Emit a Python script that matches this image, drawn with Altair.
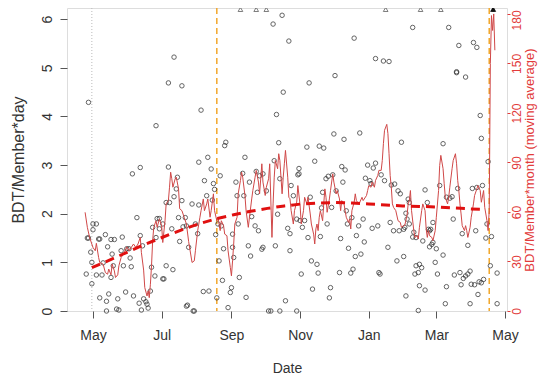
import altair as alt
import pandas as pd

START = "2015-05-01"

# daily values (day offset from START, BDT/Member*day)
pt_day = [-6,-5,-4,-4,-2,-1,-1,0,0,3,3,5,6,6,8,9,11,12,12,13,14,16,16,17,18,19,21,22,23,26,25,27,29,30,32,33,34,35,36,39,
          41,42,42,43,44,45,47,48,49,51,52,53,56,56,57,59,55,59,62,62,63,65,65,67,67,68,70,71,72,72,74,75,76,77,79,79,80,83,85,84,
          89,90,82,83,88,91,93,94,94,96,98,103,99,101,102,105,106,107,108,109,110,111,112,113,114,115,116,117,118,120,122,123,124,125,124,127,
          128,130,129,133,134,135,136,138,139,140,141,144,145,146,147,148,150,151,151,154,156,158,160,161,162,163,164,165,166,166,168,169,171,173,
          174,175,176,181,181,183,183,182,178,175,184,185,186,188,190,191,192,193,194,195,197,199,200,201,202,203,205,204,207,208,209,210,211,212,
          213,214,215,216,219,220,221,222,223,224,225,226,227,229,231,230,232,233,234,236,237,238,240,241,244,242,246,247,248,249,251,251,253,254,
          255,256,258,259,262,263,264,265,267,268,271,273,270,272,274,276,277,276,278,280,281,278,279,281,284,285,284,287,289,287,290,292,289,286,
          290,293,295,295,297,298,299,300,302,299,301,302,304,305,306,308,311,311,313,314,314,317,319,316,320,321,323,323,324,325,326,327,328,329,
          331,331,333,333,335,335,336,337,338,339,340,341,341,342,343,345,346,347,344,345,349,350,351,353,354,359,359]
pt_val = [0.76,1.50,1.50,4.29,1.21,0.56,1.00,1.79,1.67,1.79,0.74,1.48,1.48,0.27,0.74,0.99,1.57,0.20,0.00,1.32,0.35,0.69,1.47,1.17,0.93,1.47,0.04,0.25,0.02,1.52,1.24,0.93,0.39,1.28,1.28,1.09,0.91,2.82,0.31,1.92,
          0.16,1.55,2.95,0.02,1.34,0.25,0.19,0.14,0.06,0.41,0.90,1.72,3.81,1.51,1.90,1.90,0.72,1.69,1.79,0.66,0.66,0.93,2.23,2.96,4.69,2.23,1.69,0.85,2.35,5.22,2.51,2.75,1.92,1.43,2.27,4.63,1.73,0.10,1.31,0.12,
          0.00,0.00,1.92,1.75,2.20,1.79,1.59,2.18,3.06,4.13,0.40,0.41,2.68,2.37,3.16,2.92,2.28,2.62,2.50,1.57,0.27,1.79,1.03,2.78,1.75,0.63,1.28,3.40,3.47,0.07,0.38,0.48,1.31,1.10,1.58,2.65,
          2.37,0.69,1.79,2.83,2.37,3.16,0.28,1.34,2.65,1.13,1.94,1.75,2.87,2.44,1.65,2.78,1.27,1.31,2.82,2.47,0.00,0.00,5.90,3.09,1.34,4.04,1.99,3.46,2.72,0.00,6.08,4.50,0.21,1.70,
          5.55,1.24,2.58,0.00,1.89,2.93,2.82,2.80,2.37,1.59,1.86,0.76,1.72,1.86,3.37,1.51,4.69,2.34,1.03,0.45,3.08,0.96,0.78,3.39,1.53,2.12,3.35,2.44,2.72,1.79,2.77,0.27,0.48,2.13,
          2.80,3.64,4.84,2.47,0.79,1.49,2.97,2.65,3.53,2.90,2.06,1.79,1.29,0.78,0.86,1.92,5.61,1.12,1.55,1.75,3.66,1.17,1.89,1.42,3.00,2.73,2.68,2.62,1.70,2.94,3.04,5.19,1.75,0.79,
          0.76,2.80,5.14,2.68,1.31,5.13,1.82,2.59,1.65,2.61,2.47,2.41,1.03,1.65,3.47,1.68,1.72,1.12,0.31,2.30,2.23,2.01,1.89,1.79,5.83,1.62,1.52,1.51,0.01,0.93,0.96,0.89,0.79,0.76,
          0.52,1.44,0.43,2.49,2.23,1.68,1.65,1.68,1.82,1.32,1.37,1.41,1.00,1.28,0.76,2.58,3.44,1.15,0.15,0.50,2.34,2.32,2.35,5.83,1.89,0.74,4.90,4.92,2.52,5.46,0.79,0.54,1.59,0.67,
          0.72,4.81,0.76,1.35,0.82,0.15,0.55,2.52,5.52,0.54,1.65,5.42,2.54,0.34,0.60,0.58,2.58,0.65,4.02,3.55,1.50,1.79,3.07,0.93,1.53,0.78,0.15]

# days with values above the plotted range (drawn at the top edge)
over_open_day = [131, 145, 154, 260, 291, 309]
over_fill_day = [355, 356]
over_val = 6.2

# moving average, BDT/Member*month
ma_day = [-7,-5,-3,0,2,3,5,6,9,11,13,14,16,17,19,20,22,23,25,27,28,30,32,34,36,38,40,42,43,45,46,48,49,50,51,52,53,54,56,57,
          59,61,62,64,65,67,68,69,70,71,73,74,76,77,79,81,83,85,88,90,91,93,95,96,98,99,101,102,104,105,107,108,110,111,113,114,116,117,119,120,
          122,123,124,125,126,128,129,131,132,133,135,136,138,139,141,142,144,145,147,148,150,151,153,154,156,157,159,160,161,162,164,165,166,167,168,169,170,171,173,174,
          175,176,178,179,181,182,184,185,187,188,190,191,193,194,196,197,198,199,200,201,202,204,205,206,207,208,210,211,213,214,216,217,219,220,221,223,224,225,227,228,
          229,230,232,233,234,236,237,239,240,243,244,245,247,248,250,251,253,254,256,257,258,259,261,262,263,264,265,266,267,269,271,273,274,276,277,279,280,281,282,283,
          285,286,288,289,290,292,293,295,296,297,298,299,301,302,304,305,307,308,309,311,312,313,315,316,317,319,320,322,323,324,325,326,327,328,330,331,332,333,335,336,
          338,339,341,342,344,345,347,348,350,351,352,353,354,355,356,357]
ma_val = [59.8,50.7,44.6,38.5,36.5,41,32.4,29.4,28.4,23.3,22.3,25.4,21.9,28.4,24.3,20.3,21.9,27.4,32.4,34.5,35.9,38.9,36.5,38.5,40.6,38.5,40.6,44.6,35.5,24.8,14.2,9.1,12.2,8.1,16.2,27.4,42.6,50.7,54.7,50.7,
          55.8,51.7,41.5,54.7,64.9,66.9,75,84.1,80.1,75,80.1,81.1,74,62,60.8,56.8,52.7,42,29.4,30.4,36.5,48.7,56.8,60.8,67.9,60.8,64.9,67.9,56.8,60.8,71,60.8,54.7,56.8,48.7,54.7,51.7,46.6,45.6,36.5,
          26.4,21.3,30.4,40.6,52.7,56.8,71,79.1,84.1,81.1,70,60.8,50.7,56.8,67.9,73,81.1,85.2,78.1,71,89.2,78.1,70,75,80.1,89.2,44.6,64.9,81.1,91.2,86.2,95.3,91.2,81.1,71,81.1,89.2,97.3,81.1,68.9,
          68,61,52.7,60.8,66,76,64,52.7,60.8,68.9,64.9,68.9,58.8,52.7,46.6,40.6,49.7,52.7,48.7,56.8,60.8,54.7,64.9,74,68.9,59.8,67.9,73,83.1,78.1,71,73,67.9,60.8,66.9,64.9,60.8,56.8,53.7,55.8,
          49.7,60.8,65.9,71,66.9,64.9,65.9,68.9,66.9,70,73,76,75,78.1,75,79.1,82.1,85.2,85.2,91.2,101.4,109.5,113.1,107.5,95.3,82.1,75,64.9,62.8,60.8,54.7,53.7,50.7,51.7,52,58,64.9,66.9,73,60.8,
          48.7,44.6,45.6,43.6,50.7,60.8,64.9,60.8,49.7,44.6,48.7,45.6,44.6,42.6,48.7,56.8,73,88.2,94.3,86.2,77.1,68.9,64.9,68.9,75,86.2,91.2,95.3,89.2,79.1,73,64.9,58.8,51.7,48.7,51.7,48.7,44.6,50.7,56.8,
          64.9,70,74,76,73,65.9,73,62.8,54.7,48.7,60.8,150,179,170,180,158]

# smooth trend, BDT/Member*day
tr_day = [-1, 20, 40, 60, 80, 95, 110, 125, 140, 155, 170, 185, 200, 215, 230, 245, 260, 275, 290, 305, 320, 335, 348]
tr_val = [0.89, 1.10, 1.31, 1.50, 1.68, 1.80, 1.90, 1.98, 2.05, 2.11, 2.16, 2.20, 2.22, 2.23, 2.22, 2.20, 2.18, 2.16, 2.15, 2.14, 2.12, 2.10, 2.09]

# reference lines
orange_day = [110, 352]
gray_day = [-1]

tick_months = [(2015, 5), (2015, 7), (2015, 9), (2015, 11), (2016, 1), (2016, 3), (2016, 5)]
left_ticks = [0, 1, 2, 3, 4, 5, 6]
right_ticks = [0, 30, 60, 90, 120, 150, 180]


def to_dates(days):
    return pd.to_datetime(START) + pd.to_timedelta(days, unit="D")


pts = pd.DataFrame({"date": to_dates(pt_day), "v": pt_val})
over_open = pd.DataFrame({"date": to_dates(over_open_day), "v": [over_val] * len(over_open_day)})
over_fill = pd.DataFrame({"date": to_dates(over_fill_day), "v": [over_val] * len(over_fill_day)})
ma = pd.DataFrame({"date": to_dates(ma_day), "m": ma_val})
tr = pd.DataFrame({"date": to_dates(tr_day), "v": tr_val})
orange = pd.DataFrame({"date": to_dates(orange_day)})
gray = pd.DataFrame({"date": to_dates(gray_day)})

RED = "#e23b3b"
FONT = "Liberation Sans"

xscale = alt.Scale(domain=[alt.DateTime(year=2015, month=4, date=7, hours=22),
                           alt.DateTime(year=2016, month=5, date=2, hours=19)])
xaxis = alt.Axis(values=[alt.DateTime(year=y, month=m, date=1) for y, m in tick_months],
                 format="%b", title="Date", labelFontSize=14, titleFontSize=14,
                 titleFontWeight="normal", tickSize=7, labelPadding=10, titlePadding=19,
                 domain=False, grid=False, tickColor="#555", labelColor="#333", titleColor="#333")
X = alt.X("date:T", scale=xscale, axis=xaxis)

yscale = alt.Scale(domain=[0, 6.23], nice=False)
yaxis = alt.Axis(values=left_ticks, title="BDT/Member*day", labelAngle=270, labelAlign="center",
                 labelBaseline="bottom", tickSize=7, labelPadding=6, labelFontSize=14,
                 titleFontSize=16, titleFontWeight="normal", titlePadding=14, domain=False,
                 grid=False, tickColor="#555", labelColor="#333", titleColor="#333")
Y = alt.Y("v:Q", scale=yscale, axis=yaxis)

rules_o = alt.Chart(orange).mark_rule(color="#f2a72b", strokeWidth=1.5, strokeDash=[6, 4]).encode(x=X)
rules_g = alt.Chart(gray).mark_rule(color="#bbbbbb", strokeWidth=1, strokeDash=[1, 2]).encode(x=X)
points = alt.Chart(pts).mark_point(shape="circle", filled=False, size=20, color="#222222",
                                   strokeWidth=1).encode(x=X, y=Y)
tri_o = alt.Chart(over_open).mark_point(shape="triangle-up", filled=False, size=22, color="#333333",
                                        strokeWidth=0.9).encode(x=X, y=Y)
tri_f = alt.Chart(over_fill).mark_point(shape="triangle-up", filled=True, size=26, color="#111111",
                                        opacity=1).encode(x=X, y=Y)
left = alt.layer(rules_g, rules_o, points, tri_o, tri_f)

ma_line = alt.Chart(ma).mark_line(color="#d04848", strokeWidth=1).encode(
    x=X,
    y=alt.Y("m:Q", scale=alt.Scale(domain=[0, 183.6], nice=False),
            axis=alt.Axis(orient="right", values=right_ticks,
                          title="BDT/Member*month (moving average)", labelAngle=270,
                          labelAlign="center", labelBaseline="top", tickSize=3, labelPadding=1,
                          labelOffset={"condition": {"test": "datum.value == 180", "value": 6},
                                       "value": 0},
                          labelFontSize=12, titleFontSize=13, titleFontWeight="normal",
                          titleAngle=270, titleBaseline="top", titlePadding=1,
                          domain=False, grid=False, tickColor=RED,
                          labelColor=RED, titleColor=RED)))

trend = alt.Chart(tr).mark_line(color="#e01010", strokeWidth=3, strokeDash=[9, 6]).encode(
    x=X, y=alt.Y("v:Q", scale=yscale, axis=None))

chart = alt.layer(left, ma_line, trend).resolve_scale(y="independent").properties(
    width=440, height=303,
    autosize=alt.AutoSizeParams(type="none"),
    padding={"left": 59, "top": 0, "right": 31, "bottom": 64},
).configure_view(stroke="#555", strokeWidth=1).configure(font=FONT, background="white")

chart.save("out.html", embed_options={"renderer": "svg", "actions": False})
